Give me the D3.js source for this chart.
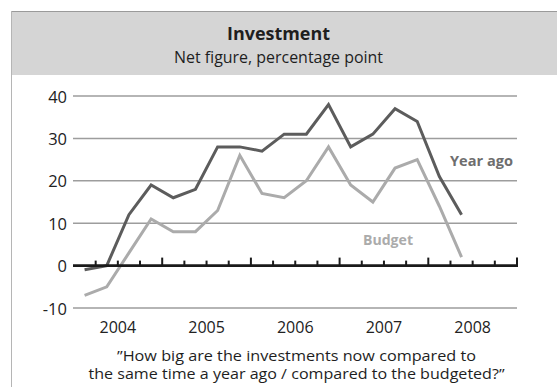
<!DOCTYPE html>
<html>
<head>
<meta charset="utf-8">
<script src="https://cdn.jsdelivr.net/npm/d3@7"></script>
<style>
  html, body { margin: 0; padding: 0; background: #fff; }
  svg { display: block; font-family: "Open Sans", "Noto Sans", sans-serif; }
</style>
</head>
<body>
<svg id="chart" width="557" height="387"></svg>
<script>
// Quarterly survey, net figures in percentage points
const quarters = [];
const years = [2004, 2005, 2006, 2007, 2008];
years.forEach(y => [1, 2, 3, 4].forEach(q => quarters.push(y + "Q" + q)));

const yearAgo = [-1, 0, 12, 19, 16, 18, 28, 28, 27, 31, 31, 38, 28, 31, 37, 34, 21, 12];
const budget  = [-7, -5, 3, 11, 8, 8, 13, 26, 17, 16, 20, 28, 19, 15, 23, 25, 14, 2];
const yTicks = [-10, 0, 10, 20, 30, 40];

const title = "Investment";
const subtitle = "Net figure, percentage point";
const question1 = "\u201dHow big are the investments now compared to";
const question2 = "the same time a year ago / compared to the budgeted?\u201d";

const svg = d3.select("#chart");

// Header band and frame
svg.append("rect").attr("x", 11).attr("y", 11).attr("width", 546).attr("height", 64)
  .attr("fill", "#d5d5d5");
svg.append("line").attr("x1", 11).attr("x2", 557).attr("y1", 11.5).attr("y2", 11.5)
  .attr("stroke", "#9a9a9a").attr("stroke-width", 1);
svg.append("line").attr("x1", 11.5).attr("x2", 11.5).attr("y1", 11).attr("y2", 387)
  .attr("stroke", "#b5b5b5").attr("stroke-width", 1);

svg.append("text").attr("x", 278.5).attr("y", 39.5).attr("text-anchor", "middle")
  .attr("font-size", 17.5).attr("font-weight", 700).attr("fill", "#1e1e1e")
  .attr("textLength", 103).attr("lengthAdjust", "spacingAndGlyphs").text(title);
svg.append("text").attr("x", 278.5).attr("y", 63).attr("text-anchor", "middle")
  .attr("font-size", 16).attr("font-weight", 500).attr("fill", "#1e1e1e")
  .attr("textLength", 209).attr("lengthAdjust", "spacingAndGlyphs").text(subtitle);

// Scales
const x = d3.scaleBand().domain(quarters).range([73.5, 517]).padding(0);
const bw = x.bandwidth();
const y = d3.scaleLinear().domain([-10, 40]).range([308, 96]);

// Horizontal grid
const grid = svg.append("g");
grid.selectAll("line").data(yTicks.filter(d => d !== 0)).join("line")
  .attr("x1", 73).attr("x2", 517)
  .attr("y1", d => y(d)).attr("y2", d => y(d))
  .attr("stroke", "#9d9d9d").attr("stroke-width", 1.5);

// Y labels
svg.append("g").selectAll("text").data(yTicks).join("text")
  .attr("x", 67).attr("y", d => y(d) + 6.5)
  .attr("text-anchor", "end").attr("font-size", 16.5).attr("font-weight", 500).attr("fill", "#222")
  .text(d => d);

// Series
const line = d3.line()
  .x((d, i) => x(quarters[i]) + bw / 2)
  .y(d => y(d));

svg.append("path").datum(budget).attr("d", line)
  .attr("fill", "none").attr("stroke", "#ababab").attr("stroke-width", 3)
  .attr("stroke-linejoin", "miter");
svg.append("path").datum(yearAgo).attr("d", line)
  .attr("fill", "none").attr("stroke", "#5c5c5c").attr("stroke-width", 3)
  .attr("stroke-linejoin", "miter");

// Zero axis with quarter ticks
const axis = svg.append("g");
axis.append("line").attr("x1", 73).attr("x2", 518)
  .attr("y1", y(0)).attr("y2", y(0))
  .attr("stroke", "#1a1a1a").attr("stroke-width", 2.6);
const tickPos = quarters.slice(1).map(q => ({ x: x(q), major: q.endsWith("Q1") }));
tickPos.push({ x: x.range()[1], major: true });
axis.selectAll("line.tick").data(tickPos).join("line").attr("class", "tick")
  .attr("x1", d => d.x).attr("x2", d => d.x)
  .attr("y1", y(0)).attr("y2", d => y(0) - (d.major ? 8 : 5))
  .attr("stroke", "#1a1a1a").attr("stroke-width", 2);

// Year labels
svg.append("g").selectAll("text").data(years).join("text")
  .attr("x", d => x(d + "Q1") + 2 * bw)
  .attr("y", 332.5).attr("text-anchor", "middle")
  .attr("font-size", 16).attr("font-weight", 500).attr("fill", "#222")
  .text(d => d);

// Series labels
svg.append("text").attr("x", 450).attr("y", 165.5)
  .attr("font-size", 15).attr("font-weight", 700).attr("fill", "#6e6e6e")
  .attr("textLength", 63).attr("lengthAdjust", "spacingAndGlyphs").text("Year ago");
svg.append("text").attr("x", 363).attr("y", 245)
  .attr("font-size", 15).attr("font-weight", 700).attr("fill", "#ababab")
  .attr("textLength", 50).attr("lengthAdjust", "spacingAndGlyphs").text("Budget");

// Survey question
svg.append("text").attr("x", 296.5).attr("y", 361).attr("text-anchor", "middle")
  .attr("font-size", 14.5).attr("font-weight", 500).attr("fill", "#1e1e1e")
  .attr("textLength", 359).attr("lengthAdjust", "spacingAndGlyphs").text(question1);
svg.append("text").attr("x", 296.5).attr("y", 378.5).attr("text-anchor", "middle")
  .attr("font-size", 14.5).attr("font-weight", 500).attr("fill", "#1e1e1e")
  .attr("textLength", 416).attr("lengthAdjust", "spacingAndGlyphs").text(question2);
</script>
</body>
</html>
